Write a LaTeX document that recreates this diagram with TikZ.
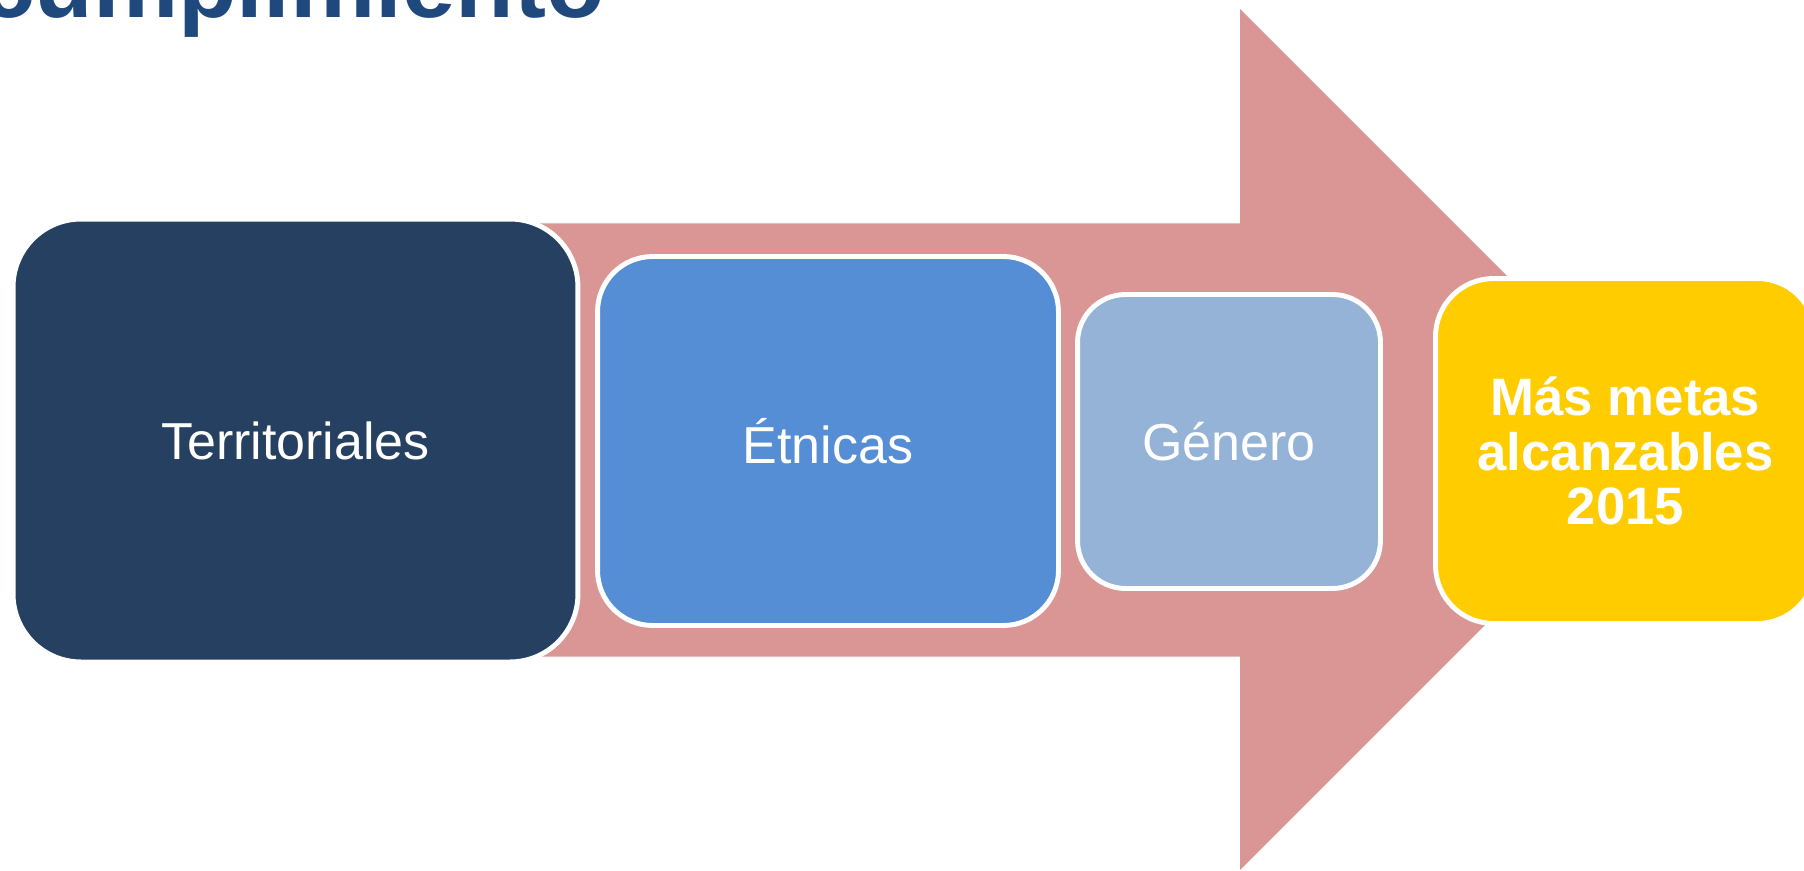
\documentclass[tikz,border=0pt]{standalone}
\usepackage{fontspec}
\setmainfont{Liberation Sans}
\usetikzlibrary{positioning}

\definecolor{rosa}{HTML}{D99694}
\definecolor{azuloscuro}{HTML}{254061}
\definecolor{azulmedio}{HTML}{558ED5}
\definecolor{azulclaro}{HTML}{95B3D7}
\definecolor{amarillo}{HTML}{FFCC00}
\definecolor{tituloazul}{HTML}{1F497D}

\begin{document}
\begin{tikzpicture}[x=0.02cm, y=0.02cm,
    caja/.style={draw=white, line width=2.8pt, inner sep=0pt, text=white,
                 font=\fontsize{29.6}{32}\selectfont}]
            \useasboundingbox (0,0) rectangle (1804,870);

            % Flecha
            \fill[rosa] (300,213.5) -- (1240,213.5) -- (1240,0) -- (1670.5,430.5)
                -- (1240,861) -- (1240,646.5) -- (300,646.5) -- cycle;

            % Titulo
            \node[anchor=base east, inner sep=0pt, text=tituloazul,
                  font=\bfseries\fontsize{54.6}{60}\selectfont] (titulo) at (605,852) {cumplimiento};

            % Nodos
            \node[caja, fill=azuloscuro, minimum width=11.3cm, minimum height=8.86cm,
                  rounded corners=1.36cm] (terr) at (295.5,429.5) {Territoriales};
            \node[caja, fill=azulmedio, minimum width=9.22cm, minimum height=7.38cm,
                  rounded corners=1.1cm] (etn) at (828,429) {Étnicas};
            \node[caja, fill=azulclaro, minimum width=6.06cm, minimum height=5.88cm,
                  rounded corners=0.96cm] (gen) at (1229,428.5) {Género};
            \node[caja, fill=amarillo, minimum width=7.6cm, minimum height=6.9cm,
                  rounded corners=1.16cm, align=center,
                  font=\bfseries\fontsize{30}{31.2}\selectfont] (metas) at (1625.5,419)
                  {Más metas\\alcanzables\\2015};
          \end{tikzpicture}
\end{document}
